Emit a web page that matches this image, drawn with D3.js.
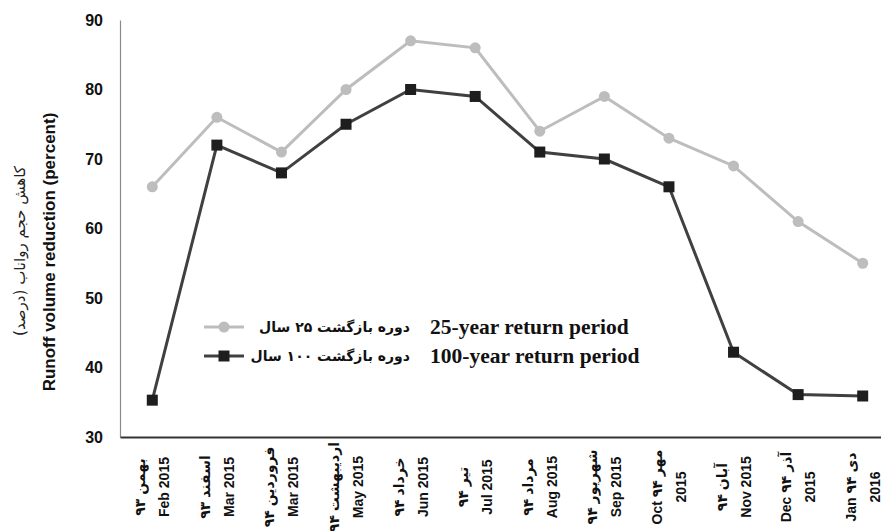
<!DOCTYPE html>
<html>
<head>
<meta charset="utf-8">
<script src="https://cdn.jsdelivr.net/npm/d3@7"></script>
<style>
  html, body { margin: 0; padding: 0; background: #fff; }
  svg { display: block; }
</style>
</head>
<body>
<svg id="chart" width="881" height="531"></svg>
<script>
// ---- data ----
const categories = ["Feb 2015","Mar 2015 (Esfand)","Mar 2015 (Farvardin)","May 2015","Jun 2015","Jul 2015","Aug 2015","Sep 2015","Oct 2015","Nov 2015","Dec 2015","Jan 2016"];
const labelLine1 = ["۹۳ بهمن","۹۳ اسفند","۹۴ فروردین","۹۴ اردیبهشت","۹۴ خرداد","۹۴ تیر","۹۴ مرداد","۹۴ شهریور","Oct ۹۴ مهر","۹۴ آبان","Dec ۹۴ آذر","Jan ۹۴ دی"];
const labelLine2 = ["Feb 2015","Mar 2015","Mar 2015","May 2015","Jun 2015","Jul 2015","Aug 2015","Sep 2015","2015","Nov 2015","2015","2016"];
const values25 = [66, 76, 71, 80, 87, 86, 74, 79, 73, 69, 61, 55];
const values100 = [35.3, 72, 68, 75, 80, 79, 71, 70, 66, 42.2, 36.1, 35.9];
const yTicks = [30, 40, 50, 60, 70, 80, 90];
const legendFa = ["دوره بازگشت ۲۵ سال", "دوره بازگشت ۱۰۰ سال"];
const legendEn = ["25-year return period", "100-year return period"];
const yTitleEn = "Runoff volume reduction (percent)";
const yTitleFa = "کاهش حجم رواناب (درصد)";

// ---- layout ----
const svg = d3.select("#chart");
const x = d3.scaleBand().domain(categories).range([120, 895]).padding(0);
const y = d3.scaleLinear().domain([30, 90]).range([437, 20]);
const cx = d => x(d) + x.bandwidth() / 2;

const c25 = "#bdbdbd", c100 = "#404040", m100 = "#1e1e1e";

// y axis line (no ticks)
const yAxis = d3.axisLeft(y).tickValues(yTicks).tickSize(0).tickPadding(17);
const gy = svg.append("g").attr("transform", "translate(120,0)").call(yAxis);
gy.select(".domain").attr("stroke", "#8a8a8a").attr("stroke-width", 1.2);
gy.selectAll("text")
  .attr("font-family", "'Liberation Sans', Arial, sans-serif")
  .attr("font-weight", "bold").attr("font-size", 16).attr("fill", "#111");

// x axis
const xAxis = d3.axisBottom(x).tickSize(0).tickFormat("");
const gx = svg.append("g").attr("transform", "translate(0,437)").call(xAxis);
gx.select(".domain").attr("stroke", "#333").attr("stroke-width", 2);

// x labels (rotated, two lines)
const lab = svg.append("g").selectAll("g").data(categories).join("g")
  .attr("transform", d => `translate(${cx(d)},487) rotate(-90)`);
const labText = lab.append("text")
  .attr("text-anchor", "middle")
  .attr("font-family", "'Liberation Sans', 'DejaVu Sans', Arial, sans-serif")
  .attr("font-weight", "bold").attr("font-size", 14).attr("fill", "#111");
labText.append("tspan").attr("x", 0).attr("y", -12).attr("dominant-baseline", "central")
  .text((d, i) => labelLine1[i]);
labText.append("tspan").attr("x", 0).attr("y", 12).attr("dominant-baseline", "central")
  .text((d, i) => labelLine2[i]);

// y title
svg.append("text")
  .attr("transform", "translate(49,252) rotate(-90)")
  .attr("text-anchor", "middle").attr("dominant-baseline", "central")
  .attr("font-family", "'Liberation Sans', Arial, sans-serif")
  .attr("font-weight", "bold").attr("font-size", 17).attr("fill", "#111")
  .text(yTitleEn);
svg.append("text")
  .attr("transform", "translate(20,251) rotate(-90)")
  .attr("text-anchor", "middle").attr("dominant-baseline", "central")
  .attr("font-family", "'DejaVu Sans', sans-serif")
  .attr("font-size", 15).attr("fill", "#222")
  .text(yTitleFa);

// lines
const line = d3.line().x((d, i) => cx(categories[i])).y(d => y(d));
svg.append("path").datum(values25).attr("d", line)
  .attr("fill", "none").attr("stroke", c25).attr("stroke-width", 3);
svg.append("path").datum(values100).attr("d", line)
  .attr("fill", "none").attr("stroke", c100).attr("stroke-width", 3);

svg.append("g").selectAll("circle").data(values25).join("circle")
  .attr("cx", (d, i) => cx(categories[i])).attr("cy", d => y(d))
  .attr("r", 5.5).attr("fill", c25);
const sq = 11;
svg.append("g").selectAll("rect").data(values100).join("rect")
  .attr("x", (d, i) => cx(categories[i]) - sq / 2).attr("y", d => y(d) - sq / 2)
  .attr("width", sq).attr("height", sq).attr("fill", m100);

// legend
const legY = [327, 356];
const leg = svg.append("g");
[0, 1].forEach(k => {
  const yy = legY[k];
  leg.append("line").attr("x1", 204).attr("x2", 244).attr("y1", yy).attr("y2", yy)
    .attr("stroke", k === 0 ? c25 : c100).attr("stroke-width", 3);
  if (k === 0) {
    leg.append("circle").attr("cx", 224).attr("cy", yy).attr("r", 5.5).attr("fill", c25);
  } else {
    leg.append("rect").attr("x", 224 - sq / 2).attr("y", yy - sq / 2)
      .attr("width", sq).attr("height", sq).attr("fill", m100);
  }
  leg.append("text").attr("x", 410).attr("y", yy).attr("text-anchor", "end")
    .attr("dominant-baseline", "central")
    .attr("font-family", "'DejaVu Sans', sans-serif").attr("font-weight", "bold")
    .attr("font-size", 14).attr("fill", "#111").text(legendFa[k]);
  leg.append("text").attr("x", 430).attr("y", yy).attr("text-anchor", "start")
    .attr("dominant-baseline", "central")
    .attr("font-family", "'Liberation Serif', 'Times New Roman', serif")
    .attr("font-weight", "bold")
    .attr("font-size", 21.5).attr("fill", "#111").text(legendEn[k]);
});
</script>
</body>
</html>
